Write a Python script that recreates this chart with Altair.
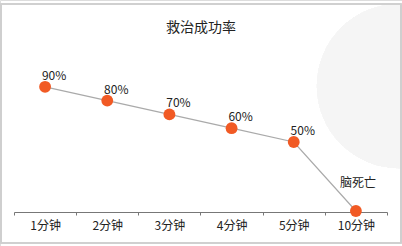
import altair as alt
import pandas as pd

categories = ["1分钟", "2分钟", "3分钟", "4分钟", "5分钟", "10分钟"]
values = [90, 80, 70, 60, 50, 0]
labels = ["90%", "80%", "70%", "60%", "50%", "脑死亡"]
title_text = "救治成功率"

df = pd.DataFrame({"cat": categories, "val": values, "lab": labels,
                   "pct": [l.endswith("%") for l in labels]})

FONT = "Noto Sans CJK JP"
W, H = 402, 246

xenc = alt.X("cat:N", sort=categories, title=None,
             scale=alt.Scale(range=[14, 387], paddingInner=0, paddingOuter=0),
             axis=alt.Axis(offset=-34, tickBand="extent", labelAngle=0,
                           domainColor="#777", tickColor="#777", tickSize=3,
                           labelFont=FONT, labelFontSize=12, labelColor="#222",
                           labelFontWeight=400, labelPadding=5, grid=False))
yenc = alt.Y("val:Q", title=None, scale=alt.Scale(domain=[0, 100], range=[211, 73]), axis=None)

bgcircle = alt.Chart(df).mark_circle(color="#f5f5f5", opacity=1, size=27000).encode(
    x=alt.value(399), y=alt.value(86))

border = alt.Chart(df).mark_rect(fill=None, stroke="#cfcfcf", strokeWidth=1.2).encode(
    x=alt.value(1), x2=alt.value(401), y=alt.value(4), y2=alt.value(243))

title = alt.Chart(pd.DataFrame({"t": [title_text]})).mark_text(
    font=FONT, fontSize=14, color="#222",
    fontWeight=400, align="center", baseline="middle").encode(
    text="t:N", x=alt.value(201), y=alt.value(28))

base = alt.Chart(df).encode(x=xenc, y=yenc)
line = base.mark_line(color="#aaaaaa", strokeWidth=1.2)
pts = base.mark_circle(color="#f15a24", opacity=1, size=140)
pct_labels = base.transform_filter("datum.pct").mark_text(
    font=FONT, fontSize=12, color="#222", fontWeight=400, align="center", dx=9, dy=-11).encode(text="lab:N")
other_labels = base.transform_filter("!datum.pct").mark_text(
    font=FONT, fontSize=12, color="#222", fontWeight=400, align="center", dx=2, dy=-28).encode(text="lab:N")

chart = alt.layer(bgcircle, border, title, line, pts, pct_labels, other_labels).properties(
    width=W, height=H, autosize=alt.AutoSizeParams(type="none"), padding=0
).configure_view(stroke=None).configure(background="white")

chart.save("out.html", embed_options={"renderer": "svg", "actions": False})
